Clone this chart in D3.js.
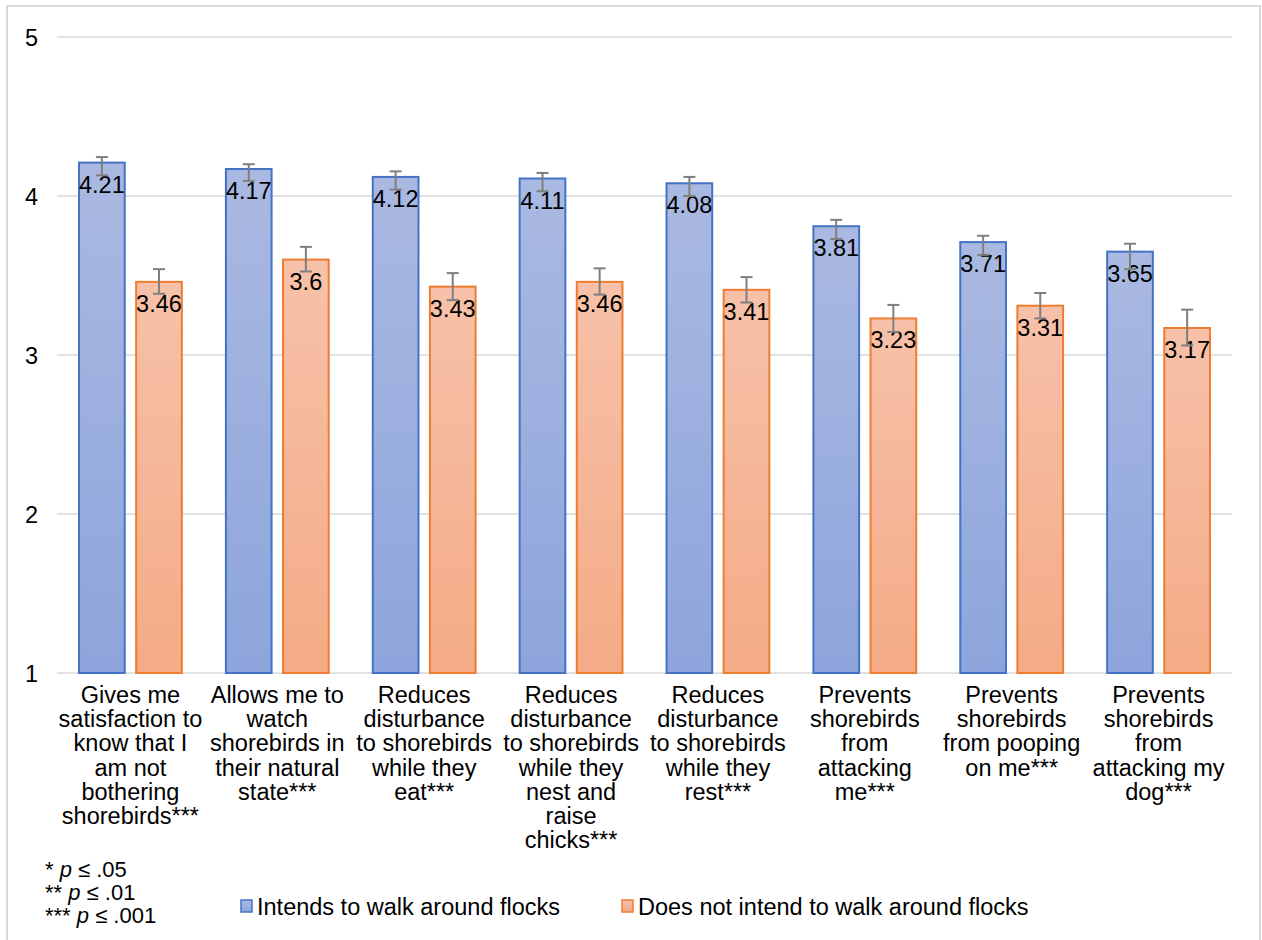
<!DOCTYPE html>
<html>
<head>
<meta charset="utf-8">
<script src="https://cdn.jsdelivr.net/npm/d3@7"></script>
<style>
    html, body { margin: 0; padding: 0; background: #fff; }
    svg { display: block; font-family: "Liberation Sans", Arial, Helvetica, sans-serif; }
</style>
</head>
<body>
<div id="chart"></div>
<script>
// categories, one array of wrapped lines per category
var categoryLines = [
    ['Gives me', 'satisfaction to', 'know that I', 'am not', 'bothering', 'shorebirds***'],
    ['Allows me to', 'watch', 'shorebirds in', 'their natural', 'state***'],
    ['Reduces', 'disturbance', 'to shorebirds', 'while they', 'eat***'],
    ['Reduces', 'disturbance', 'to shorebirds', 'while they', 'nest and', 'raise', 'chicks***'],
    ['Reduces', 'disturbance', 'to shorebirds', 'while they', 'rest***'],
    ['Prevents', 'shorebirds', 'from', 'attacking', 'me***'],
    ['Prevents', 'shorebirds', 'from pooping', 'on me***'],
    ['Prevents', 'shorebirds', 'from', 'attacking my', 'dog***'],
];
var categories = categoryLines.map(l => l.join(' '));

var seriesNames = ['Intends to walk around flocks', 'Does not intend to walk around flocks'];

var intendsValues = [4.21, 4.17, 4.12, 4.11, 4.08, 3.81, 3.71, 3.65];
var intendsLow = [4.13, 4.095, 4.04, 4.03, 4.00, 3.73, 3.63, 3.54];
var intendsHigh = [4.245, 4.20, 4.155, 4.145, 4.12, 3.85, 3.75, 3.70];

var notIntendsValues = [3.46, 3.6, 3.43, 3.46, 3.41, 3.23, 3.31, 3.17];
var notIntendsLow = [3.385, 3.525, 3.345, 3.38, 3.33, 3.145, 3.23, 3.06];
var notIntendsHigh = [3.54, 3.68, 3.515, 3.545, 3.49, 3.315, 3.39, 3.285];

var yTicks = [1, 2, 3, 4, 5];

var footnoteStars = ['*', '**', '***'];
var footnoteLevels = ['.05', '.01', '.001'];

var W = 1262, H = 940;
var FONT = 23.5;
var colors = [
    {stroke: '#4472c4', top: '#aab9e1', bottom: '#8da5dc'},
    {stroke: '#ed7d31', top: '#f7c1a9', bottom: '#f4ab86'},
];

var svg = d3.select('#chart').append('svg')
    .attr('width', W)
    .attr('height', H);

var defs = svg.append('defs');
colors.forEach((c, i) => {
    var g = defs.append('linearGradient')
        .attr('id', 'grad' + i)
        .attr('x1', 0).attr('y1', 0).attr('x2', 0).attr('y2', 1);
    g.append('stop').attr('offset', '0%').attr('stop-color', c.top);
    g.append('stop').attr('offset', '100%').attr('stop-color', c.bottom);
});

// chart frame
svg.append('rect')
    .attr('x', 7).attr('y', 6)
    .attr('width', 1253).attr('height', 960)
    .attr('fill', 'none')
    .attr('stroke', '#d9d9d9')
    .attr('stroke-width', 2);

var x0 = d3.scaleBand()
    .domain(d3.range(categories.length))
    .range([57, 1232])
    .paddingInner(0.3)
    .paddingOuter(0.15);

var x1 = d3.scaleBand()
    .domain([0, 1])
    .range([0, x0.bandwidth()])
    .paddingInner(0.2);

var y = d3.scaleLinear()
    .domain([1, 5])
    .range([673, 37]);

// gridlines
svg.append('g')
    .selectAll('line')
    .data(yTicks)
    .enter()
    .append('line')
    .attr('x1', 57).attr('x2', 1232)
    .attr('y1', d => y(d)).attr('y2', d => y(d))
    .attr('stroke', '#d9d9d9')
    .attr('stroke-width', 1.5);

svg.append('g')
    .selectAll('text')
    .data(yTicks)
    .enter()
    .append('text')
    .attr('x', 25)
    .attr('y', d => y(d) + 8.5)
    .attr('font-size', FONT)
    .attr('fill', '#000')
    .text(d => d);

var series = [
    {values: intendsValues, low: intendsLow, high: intendsHigh},
    {values: notIntendsValues, low: notIntendsLow, high: notIntendsHigh},
];

var rows = [];
series.forEach((s, si) => {
    s.values.forEach((v, ci) => {
        rows.push({si: si, ci: ci, v: v, lo: s.low[ci], hi: s.high[ci]});
    });
});
var bx = d => x0(d.ci) + x1(d.si);

var bars = svg.append('g');
bars.selectAll('rect')
    .data(rows)
    .enter()
    .append('rect')
    .attr('x', d => bx(d))
    .attr('y', d => y(d.v))
    .attr('width', x1.bandwidth())
    .attr('height', d => y(1) - y(d.v))
    .attr('fill', d => 'url(#grad' + d.si + ')')
    .attr('stroke', d => colors[d.si].stroke)
    .attr('stroke-width', 2);

bars.selectAll('text')
    .data(rows)
    .enter()
    .append('text')
    .attr('x', d => bx(d) + x1.bandwidth() / 2)
    .attr('y', d => y(d.v) + 30)
    .attr('text-anchor', 'middle')
    .attr('font-size', FONT)
    .attr('fill', '#000')
    .text(d => d.v);

// error bars
var err = svg.append('g')
    .attr('stroke', '#7f7f7f')
    .attr('stroke-width', 2);
var cap = 6;
rows.forEach(d => {
    var cx = bx(d) + x1.bandwidth() / 2;
    err.append('line')
        .attr('x1', cx).attr('x2', cx)
        .attr('y1', y(d.hi)).attr('y2', y(d.lo));
    err.append('line')
        .attr('x1', cx - cap).attr('x2', cx + cap)
        .attr('y1', y(d.hi)).attr('y2', y(d.hi));
    err.append('line')
        .attr('x1', cx - cap).attr('x2', cx + cap)
        .attr('y1', y(d.lo)).attr('y2', y(d.lo));
});

// category labels
var cat = svg.append('g')
    .selectAll('text')
    .data(categoryLines)
    .enter()
    .append('text')
    .attr('text-anchor', 'middle')
    .attr('font-size', FONT)
    .attr('fill', '#000');
cat.each(function(lines, i) {
    var cx = x0(i) + x0.bandwidth() / 2;
    d3.select(this).selectAll('tspan')
        .data(lines)
        .enter()
        .append('tspan')
        .attr('x', cx)
        .attr('y', (d, j) => 703 + j * 24.2)
        .text(d => d);
});

// footnote, lines are set tight as in the original
var foot = svg.append('g')
    .selectAll('text')
    .data(footnoteStars)
    .enter()
    .append('text')
    .attr('x', 45)
    .attr('y', (d, i) => 877 + i * 23)
    .attr('font-size', 22)
    .attr('fill', '#000');
foot.append('tspan').text(d => d + ' ');
foot.append('tspan').attr('font-style', 'italic').text('p');
foot.append('tspan').text((d, i) => ' \u2264 ' + footnoteLevels[i]);

// legend
var legendX = [241, 622];
var legend = svg.append('g')
    .selectAll('g')
    .data(seriesNames)
    .enter()
    .append('g')
    .attr('transform', (d, i) => `translate(${legendX[i]}, 900)`);
legend.append('rect')
    .attr('x', 0).attr('y', 0)
    .attr('width', 11).attr('height', 12)
    .attr('fill', (d, i) => 'url(#grad' + i + ')')
    .attr('stroke', (d, i) => colors[i].stroke)
    .attr('stroke-width', 1.5);
legend.append('text')
    .attr('x', 16)
    .attr('y', 15)
    .attr('font-size', FONT)
    .attr('fill', '#000')
    .text(d => d);
</script>
</body>
</html>
